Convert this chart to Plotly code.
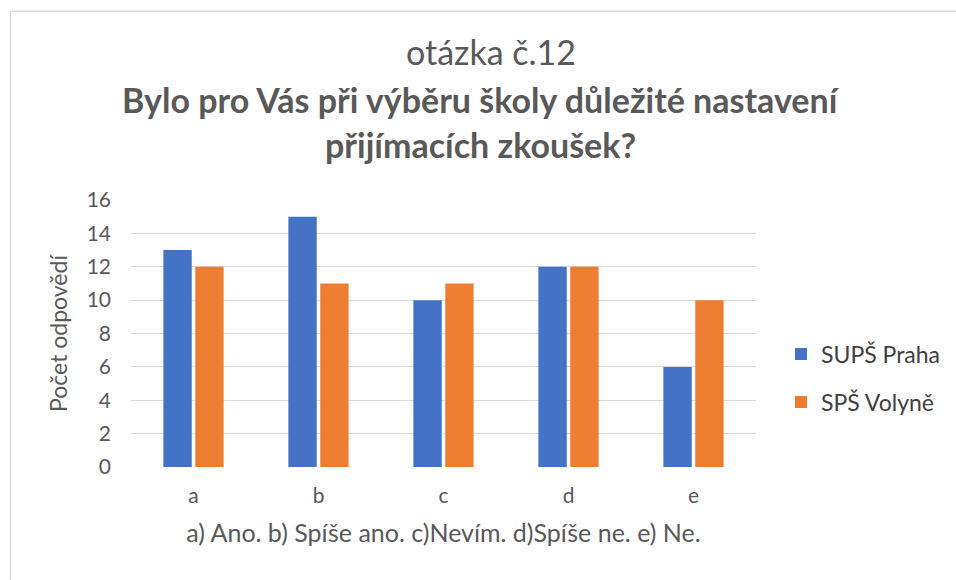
import plotly.graph_objects as go

categories = ["a", "b", "c", "d", "e"]
supsp_praha = [13, 15, 10, 12, 6]
sps_volyne = [12, 11, 11, 12, 10]
series_names = ["SUPŠ Praha", "SPŠ Volyně"]
y_ticks = [0, 2, 4, 6, 8, 10, 12, 14, 16]

FONT = "Lato"
GRAY = "#595959"

fig = go.Figure()
fig.add_trace(go.Bar(x=categories, y=supsp_praha, name=series_names[0],
                     marker=dict(color="#4472C4", line=dict(width=0)), legendgroup="g1"))
fig.add_trace(go.Bar(x=categories, y=sps_volyne, name=series_names[1],
                     marker=dict(color="#ED7D31", line=dict(width=0)), legendgroup="g2"))

W, H = 956, 580
L, R, T, B = 131, 200, 199.5, 113
pw = W - L - R
ph = H - T - B

def px(x):
    return (x - L) / pw

def py(y):
    return (H - B - y) / ph

fig.update_layout(
    width=W, height=H,
    margin=dict(l=L, r=R, t=T, b=B, autoexpand=False),
    paper_bgcolor="white", plot_bgcolor="white",
    font=dict(family=FONT, color=GRAY),
    barmode="group", bargap=0.49, bargroupgap=0.11,
    showlegend=True,
    legend=dict(x=px(781), y=py(378), xanchor="left", yanchor="middle",
                font=dict(size=23, color="#404040", family=FONT),
                tracegroupgap=15, traceorder="grouped",
                bgcolor="rgba(0,0,0,0)"),
    xaxis=dict(showgrid=False, zeroline=False, showline=False, ticks="",
               tickfont=dict(size=21, color=GRAY), ticklabelstandoff=14,
               title=dict(text="a) Ano. b) Spíše ano. c)Nevím. d)Spíše ne. e) Ne.",
                          font=dict(size=25, color=GRAY), standoff=18)),
    yaxis=dict(range=[0, 16], tickvals=y_ticks, showgrid=True, gridcolor="#D9D9D9",
               gridwidth=1.3, zeroline=False, showline=False, ticks="",
               tickfont=dict(size=21, color=GRAY), ticklabelstandoff=19,
               title=dict(text="Počet odpovědí", font=dict(size=23, color=GRAY), standoff=12)),
    annotations=[
        dict(text="otázka č.12", x=px(491), y=py(51), xref="paper", yref="paper",
             xanchor="center", yanchor="middle", showarrow=False,
             font=dict(size=34, color=GRAY, family=FONT)),
        dict(text="<b>Bylo pro Vás při výběru školy důležité nastavení</b>", x=px(480.5), y=py(99),
             xref="paper", yref="paper", xanchor="center", yanchor="middle", showarrow=False,
             font=dict(size=34, color=GRAY, family=FONT)),
        dict(text="<b>přijímacích zkoušek?</b>", x=px(480), y=py(144),
             xref="paper", yref="paper", xanchor="center", yanchor="middle", showarrow=False,
             font=dict(size=34, color=GRAY, family=FONT)),
    ],
    shapes=[
        dict(type="line", xref="paper", yref="paper",
             x0=px(10.5), x1=px(956), y0=py(10.5), y1=py(10.5),
             line=dict(color="#D9D9D9", width=1.5), layer="above"),
        dict(type="line", xref="paper", yref="paper",
             x0=px(10.5), x1=px(10.5), y0=py(580), y1=py(10.5),
             line=dict(color="#D9D9D9", width=1.5), layer="above"),
    ],
)

fig.write_html("out.html", config={"displayModeBar": False},
               post_script="document.body.style.margin='0';document.body.style.overflow='hidden';")
